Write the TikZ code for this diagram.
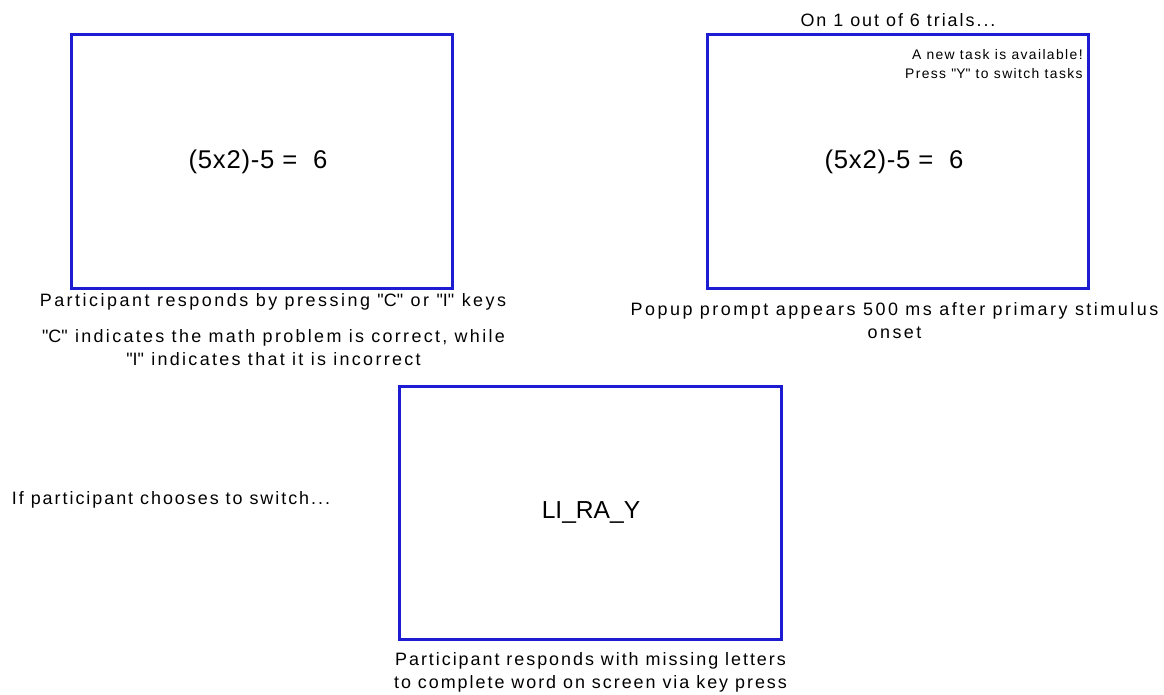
\documentclass[tikz,border=0pt]{standalone}
\usepackage{fontspec}
\setmainfont[LetterSpace=11]{Liberation Sans}
\usepackage{xcolor}
\usetikzlibrary{positioning}
\definecolor{screenblue}{RGB}{28,28,210}
\newcommand{\qt}{\textquotedbl}

\begin{document}
\begin{tikzpicture}[
        x=0.02cm, y=-0.02cm,
        screen_box/.style={
            draw=screenblue,
            line width=1.7pt,
            minimum width=7.64cm,
            minimum height=5.07cm,
            inner sep=0pt
        },
        stim_text/.style={
            inner sep=0pt,
            font=\fontsize{14.6}{17}\selectfont\addfontfeature{LetterSpace=3}
        },
        caption_text/.style={
            align=center,
            inner sep=0pt,
            font=\fontsize{10.2}{13}\selectfont
        },
        wide_caption/.style={
            caption_text,
            font=\fontsize{10.2}{13}\selectfont\addfontfeature{LetterSpace=14}
        },
        popup_text/.style={
            align=right,
            inner sep=0pt,
            font=\fontsize{7.9}{11.3}\selectfont\addfontfeature{LetterSpace=10}
        }
    ]
        \useasboundingbox (0,0) rectangle (1164,694);

        % Screens
        \node[screen_box] (trial1) at (262,161.5) {};
        \node[screen_box] (trial2) at (898,161.5) {};
        \node[screen_box] (trial3) at (590.5,513) {};

        % Stimuli
        \node[stim_text] (math1) at (258,162) {(5x2)-5 =~~6};
        \node[stim_text] (math2) at (894,162) {(5x2)-5 =~~6};
        \node[stim_text, font=\fontsize{14}{17}\selectfont\addfontfeature{LetterSpace=0}] (word) at (591,512) {LI\_RA\_Y};

        % Popup prompt
        \node[popup_text, anchor=east] (popup) at (1083,64) {A new task is available!\\Press \qt Y\qt{} to switch tasks};

        % Captions
        \node[caption_text] (freq) at (898,20) {On 1 out of 6 trials...};
        \node[wide_caption] (resp1) at (273,302) {Participant responds by pressing \qt C\qt{} or \qt I\qt{} keys};
        \node[caption_text, font=\fontsize{10.2}{13}\selectfont\addfontfeature{LetterSpace=13}] (keys1) at (273.5,348) {\qt C\qt{} indicates the math problem is correct, while\\\qt I\qt{} indicates that it is incorrect};
        \node[wide_caption] (onset) at (894.5,320.5) {Popup prompt appears 500 ms after primary stimulus\\onset};
        \node[caption_text] (switch) at (171,500) {If participant chooses to switch...};
        \node[caption_text] (resp3) at (590.5,672.5) {Participant responds with missing letters\\to complete word on screen via key press};
    \end{tikzpicture}
\end{document}
